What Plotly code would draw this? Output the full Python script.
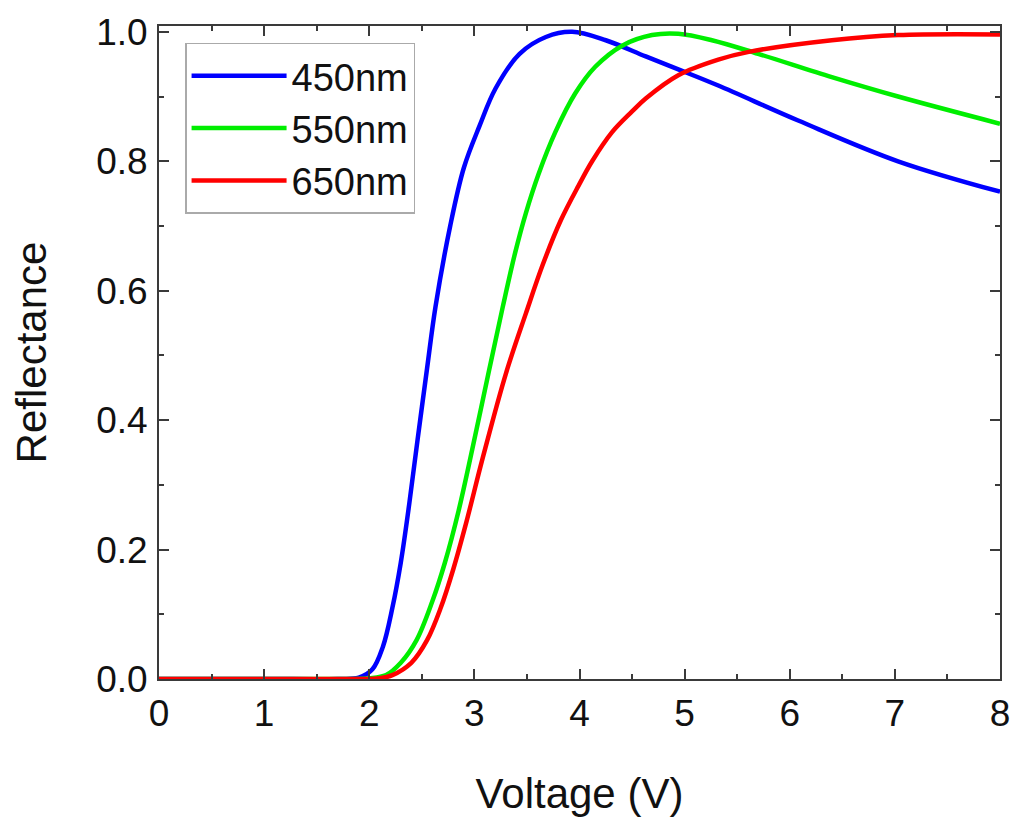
import plotly.graph_objects as go

# values
v_450 = [0, 1.0, 1.7, 1.9, 2.03, 2.13, 2.22, 2.30, 2.38, 2.46, 2.55, 2.63, 2.77, 2.90,
         3.05, 3.20, 3.43, 3.68, 3.93, 4.25, 4.63, 4.94, 5.32, 6.08, 7.03, 8.0]
r_450 = [0, 0, 0, 0.002, 0.015, 0.05, 0.11, 0.18, 0.27, 0.37, 0.48, 0.575, 0.70, 0.79,
         0.855, 0.912, 0.966, 0.992, 1.0, 0.987, 0.962, 0.942, 0.917, 0.863, 0.80, 0.753]

v_550 = [0, 1.0, 1.8, 2.0, 2.16, 2.30, 2.45, 2.60, 2.72, 2.85, 2.98, 3.14, 3.27, 3.39,
         3.49, 3.61, 3.77, 3.96, 4.15, 4.41, 4.69, 4.94, 5.26, 5.70, 6.40, 7.03, 8.0]
r_550 = [0, 0, 0, 0.001, 0.006, 0.025, 0.06, 0.12, 0.18, 0.26, 0.355, 0.477, 0.575, 0.66,
         0.72, 0.78, 0.845, 0.905, 0.946, 0.979, 0.995, 0.997, 0.987, 0.966, 0.93, 0.90, 0.858]

v_650 = [0, 1.0, 1.9, 2.1, 2.22, 2.40, 2.55, 2.68, 2.80, 2.92, 3.08, 3.30, 3.49, 3.65,
         3.82, 3.99, 4.12, 4.31, 4.50, 4.63, 4.94, 5.32, 5.61, 6.40, 7.03, 8.0]
r_650 = [0, 0, 0, 0.001, 0.006, 0.025, 0.06, 0.11, 0.17, 0.24, 0.342, 0.472, 0.565, 0.64,
         0.708, 0.762, 0.80, 0.845, 0.877, 0.897, 0.933, 0.957, 0.969, 0.987, 0.995, 0.996]

series = [
    ("450nm", v_450, r_450, "#0000ff"),
    ("550nm", v_550, r_550, "#00ee00"),
    ("650nm", v_650, r_650, "#ff0000"),
]

FONT = "Liberation Sans, Arial, sans-serif"
AXIS_COLOR = "#3a3a3a"

fig = go.Figure()
for name, vx, ry, color in series:
    fig.add_trace(go.Scatter(
        x=vx, y=ry, name=name, mode="lines",
        line=dict(color=color, width=4.5, shape="spline", smoothing=1.0),
    ))

axis_common = dict(
    showline=True, linecolor=AXIS_COLOR, linewidth=2, mirror="allticks",
    ticks="inside", ticklen=10, tickwidth=2, tickcolor=AXIS_COLOR,
    showgrid=False, zeroline=False, automargin=False,
    tickfont=dict(family=FONT, size=37, color="#111"),
)

fig.update_xaxes(
    range=[0, 8], tickvals=[0, 1, 2, 3, 4, 5, 6, 7, 8],
    minor=dict(dtick=0.5, ticks="inside", ticklen=5, tickwidth=1.5, tickcolor=AXIS_COLOR),
    title=dict(text="Voltage (V)", font=dict(family=FONT, size=42, color="#111"), standoff=45),
    ticklabelstandoff=1,
    **axis_common,
)
fig.update_yaxes(
    range=[0, 1.009], tickvals=[0, 0.2, 0.4, 0.6, 0.8, 1.0], tickformat=".1f",
    minor=dict(dtick=0.1, ticks="inside", ticklen=5, tickwidth=1.5, tickcolor=AXIS_COLOR),
    title=dict(text="Reflectance", font=dict(family=FONT, size=42, color="#111"), standoff=38),
    ticklabelstandoff=2,
    **axis_common,
)

fig.update_layout(
    width=1024, height=820,
    margin=dict(l=151, r=32, t=18, b=149),
    paper_bgcolor="white", plot_bgcolor="white",
    legend=dict(
        x=0.031, y=0.974, xanchor="left", yanchor="top",
        bgcolor="white", bordercolor="#aaaaaa", borderwidth=1.5,
        font=dict(family=FONT, size=38, color="#111"),
        itemwidth=95, tracegroupgap=0,
    ),
)

fig.write_html("out.html")
